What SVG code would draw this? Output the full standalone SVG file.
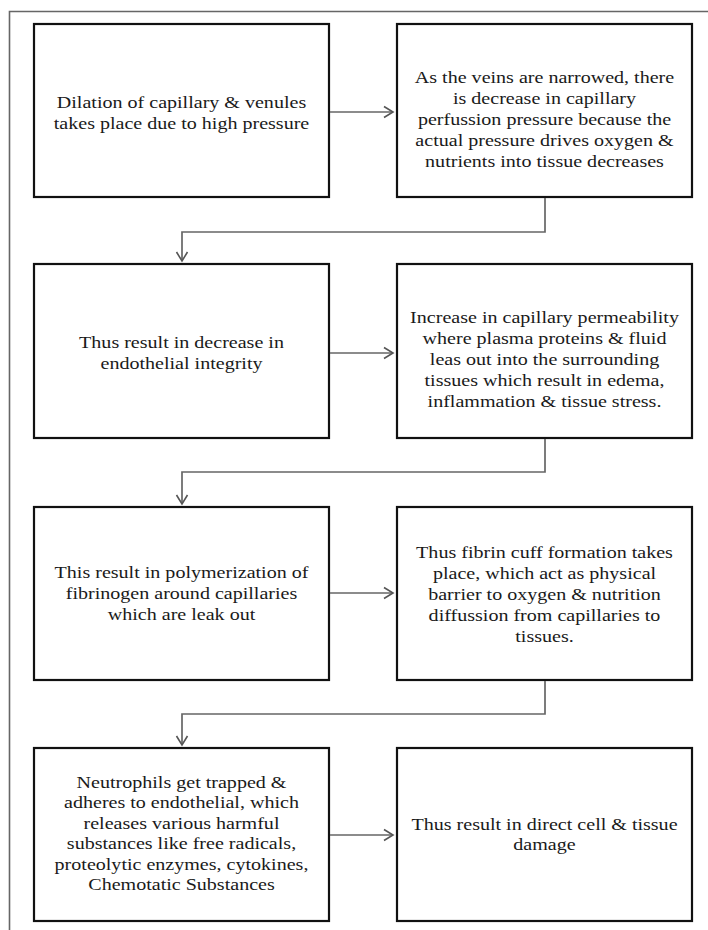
<svg xmlns="http://www.w3.org/2000/svg" width="708" height="930" viewBox="0 0 708 930">
<style>
.frame{fill:none;stroke:#666;stroke-width:1.6}
.box{fill:#fff;stroke:#111;stroke-width:2.2}
.conn{fill:none;stroke:#666;stroke-width:1.7}
.t{font-family:'Liberation Serif','Times New Roman','DejaVu Serif',serif;font-size:17px;fill:#1a1a1a;text-anchor:middle}
</style>
<defs>
<marker id="arr" markerUnits="userSpaceOnUse" markerWidth="14" markerHeight="14" refX="11" refY="7" orient="auto">
<path d="M2,1.5 L11,7 L2,12.5" fill="none" stroke="#555" stroke-width="1.6"/>
</marker>
</defs>
<rect width="708" height="930" fill="#fff"/>
<path class="frame" d="M9.5,930 V11.5 H708"/>

<g id="n1">
<rect class="box" x="34" y="24" width="295" height="173"/>
<text class="t" font-family="Liberation Serif, serif" transform="matrix(1.18 0 0 1 181.5 0)"><tspan x="0" y="108">Dilation of capillary &amp; venules</tspan><tspan x="0" y="128.8">takes place due to high pressure</tspan></text>
</g>
<g id="n2">
<rect class="box" x="397" y="24" width="295" height="173"/>
<text class="t" font-family="Liberation Serif, serif" transform="matrix(1.18 0 0 1 544.5 0)"><tspan x="0" y="83">As the veins are narrowed, there</tspan><tspan x="0" y="104">is decrease in capillary</tspan><tspan x="0" y="125">perfussion pressure because the</tspan><tspan x="0" y="146">actual pressure drives oxygen &amp;</tspan><tspan x="0" y="167">nutrients into tissue decreases</tspan></text>
</g>
<g id="n3">
<rect class="box" x="34" y="264" width="295" height="174"/>
<text class="t" font-family="Liberation Serif, serif" transform="matrix(1.18 0 0 1 181.5 0)"><tspan x="0" y="348">Thus result in decrease in</tspan><tspan x="0" y="368.8">endothelial integrity</tspan></text>
</g>
<g id="n4">
<rect class="box" x="397" y="264" width="295" height="174"/>
<text class="t" font-family="Liberation Serif, serif" transform="matrix(1.18 0 0 1 544.5 0)"><tspan x="0" y="323">Increase in capillary permeability</tspan><tspan x="0" y="344">where plasma proteins &amp; fluid</tspan><tspan x="0" y="365">leas out into the surrounding</tspan><tspan x="0" y="386">tissues which result in edema,</tspan><tspan x="0" y="407">inflammation &amp; tissue stress.</tspan></text>
</g>
<g id="n5">
<rect class="box" x="34" y="507" width="295" height="173"/>
<text class="t" font-family="Liberation Serif, serif" transform="matrix(1.18 0 0 1 181.5 0)"><tspan x="0" y="578">This result in polymerization of</tspan><tspan x="0" y="599">fibrinogen around capillaries</tspan><tspan x="0" y="620">which are leak out</tspan></text>
</g>
<g id="n6">
<rect class="box" x="397" y="507" width="295" height="173"/>
<text class="t" font-family="Liberation Serif, serif" transform="matrix(1.18 0 0 1 544.5 0)"><tspan x="0" y="558">Thus fibrin cuff formation takes</tspan><tspan x="0" y="579">place, which act as physical</tspan><tspan x="0" y="600">barrier to oxygen &amp; nutrition</tspan><tspan x="0" y="621">diffussion from capillaries to</tspan><tspan x="0" y="642">tissues.</tspan></text>
</g>
<g id="n7">
<rect class="box" x="34" y="748" width="295" height="173"/>
<text class="t" font-family="Liberation Serif, serif" transform="matrix(1.18 0 0 1 181.5 0)"><tspan x="0" y="788">Neutrophils get trapped &amp;</tspan><tspan x="0" y="808.4">adheres to endothelial, which</tspan><tspan x="0" y="828.8">releases various harmful</tspan><tspan x="0" y="849.2">substances like free radicals,</tspan><tspan x="0" y="869.6">proteolytic enzymes, cytokines,</tspan><tspan x="0" y="890">Chemotatic Substances</tspan></text>
</g>
<g id="n8">
<rect class="box" x="397" y="748" width="295" height="173"/>
<text class="t" font-family="Liberation Serif, serif" transform="matrix(1.18 0 0 1 544.5 0)"><tspan x="0" y="830">Thus result in direct cell &amp; tissue</tspan><tspan x="0" y="850.5">damage</tspan></text>
</g>

<g id="connectors">
<path class="conn" d="M330,112 H393" marker-end="url(#arr)"/>
<path class="conn" d="M545,198 V232 H182 V261" marker-end="url(#arr)"/>
<path class="conn" d="M330,353 H393" marker-end="url(#arr)"/>
<path class="conn" d="M545,439 V472 H182 V504" marker-end="url(#arr)"/>
<path class="conn" d="M330,593 H393" marker-end="url(#arr)"/>
<path class="conn" d="M545,681 V714 H182 V745" marker-end="url(#arr)"/>
<path class="conn" d="M330,835 H393" marker-end="url(#arr)"/>
</g>
</svg>
